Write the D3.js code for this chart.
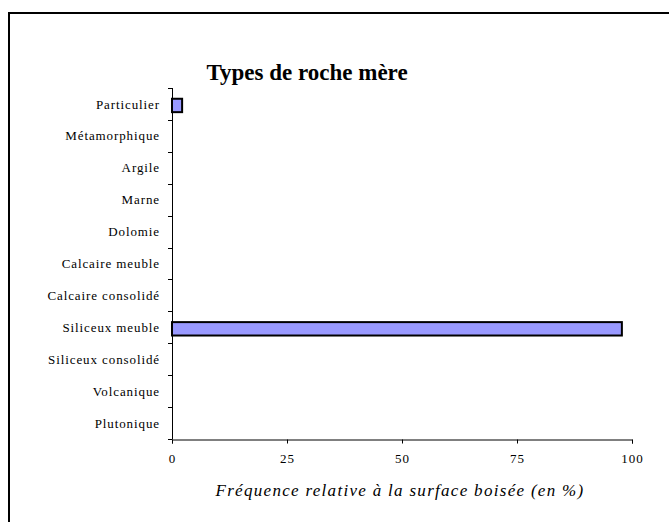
<!DOCTYPE html>
<html>
<head>
<meta charset="utf-8">
<script src="https://cdn.jsdelivr.net/npm/d3@7"></script>
<style>
  body { margin: 0; background: #fff; }
  text { font-family: "Liberation Serif", "Times New Roman", serif; }
</style>
</head>
<body>
<svg id="chart" width="669" height="522"></svg>
<script>
// categories, top to bottom
const categories = ["Particulier", "Métamorphique", "Argile", "Marne", "Dolomie",
  "Calcaire meuble", "Calcaire consolidé", "Siliceux meuble", "Siliceux consolidé",
  "Volcanique", "Plutonique"];
const values = [2.2, 0, 0, 0, 0, 0, 0, 97.8, 0, 0, 0];
const xTicks = [0, 25, 50, 75, 100];
const chartTitle = "Types de roche mère";
const xTitle = "Fréquence relative à la surface boisée (en %)";

const svg = d3.select("#chart");

// outer frame (cut off at right/bottom like the screenshot)
svg.append("rect")
  .attr("x", 9).attr("y", 13)
  .attr("width", 700).attr("height", 560)
  .attr("fill", "none")
  .attr("stroke", "#000")
  .attr("stroke-width", 2);

const plotL = 172, plotR = 632, plotT = 88, plotB = 439;

const x = d3.scaleLinear().domain([0, 100]).range([plotL, plotR]);
const y = d3.scaleBand().domain(categories).range([plotT, plotB]).paddingInner(0.58).paddingOuter(0.29);

// bars
svg.append("g").selectAll("rect")
  .data(categories.map((c, i) => ({ cat: c, val: values[i] })).filter(d => d.val > 0))
  .join("rect")
  .attr("x", x(0))
  .attr("y", d => y(d.cat) + 1.5)
  .attr("width", d => x(d.val) - x(0))
  .attr("height", y.bandwidth())
  .attr("fill", "#9999ff")
  .attr("stroke", "#000")
  .attr("stroke-width", 2);

// y axis
const yStep = (plotB - plotT) / categories.length;
const yAxis = svg.append("g");
yAxis.append("line")
  .attr("x1", plotL + 0.5).attr("x2", plotL + 0.5)
  .attr("y1", plotT).attr("y2", plotB)
  .attr("stroke", "#000");
yAxis.selectAll("line.tick")
  .data(d3.range(categories.length + 1))
  .join("line")
  .attr("class", "tick")
  .attr("x1", plotL - 4).attr("x2", plotL + 0.5)
  .attr("y1", i => Math.round(plotT + i * yStep) + 0.5)
  .attr("y2", i => Math.round(plotT + i * yStep) + 0.5)
  .attr("stroke", "#000");
yAxis.selectAll("text")
  .data(categories)
  .join("text")
  .attr("x", 160)
  .attr("y", (d, i) => plotT + (i + 0.5) * yStep)
  .attr("dy", "0.35em")
  .attr("text-anchor", "end")
  .attr("font-size", 13)
  .attr("letter-spacing", 0.9)
  .text(d => d);

// x axis
const xAxis = svg.append("g")
  .attr("transform", `translate(0,${plotB + 0.5})`)
  .call(d3.axisBottom(x).tickValues(xTicks).tickSize(4).tickPadding(10).tickFormat(d3.format("d")));
xAxis.select(".domain").attr("stroke", "#000");
xAxis.selectAll(".tick line").attr("stroke", "#000");
xAxis.selectAll(".tick text")
  .attr("font-size", 13)
  .attr("letter-spacing", 1)
  .attr("fill", "#000");

// titles
svg.append("text")
  .attr("x", 307).attr("y", 80)
  .attr("text-anchor", "middle")
  .attr("font-size", 23)
  .attr("font-weight", "bold")
  .text(chartTitle);

svg.append("text")
  .attr("x", 400).attr("y", 496)
  .attr("text-anchor", "middle")
  .attr("font-size", 17)
  .attr("font-style", "italic")
  .attr("letter-spacing", 1.3)
  .text(xTitle);
</script>
</body>
</html>
